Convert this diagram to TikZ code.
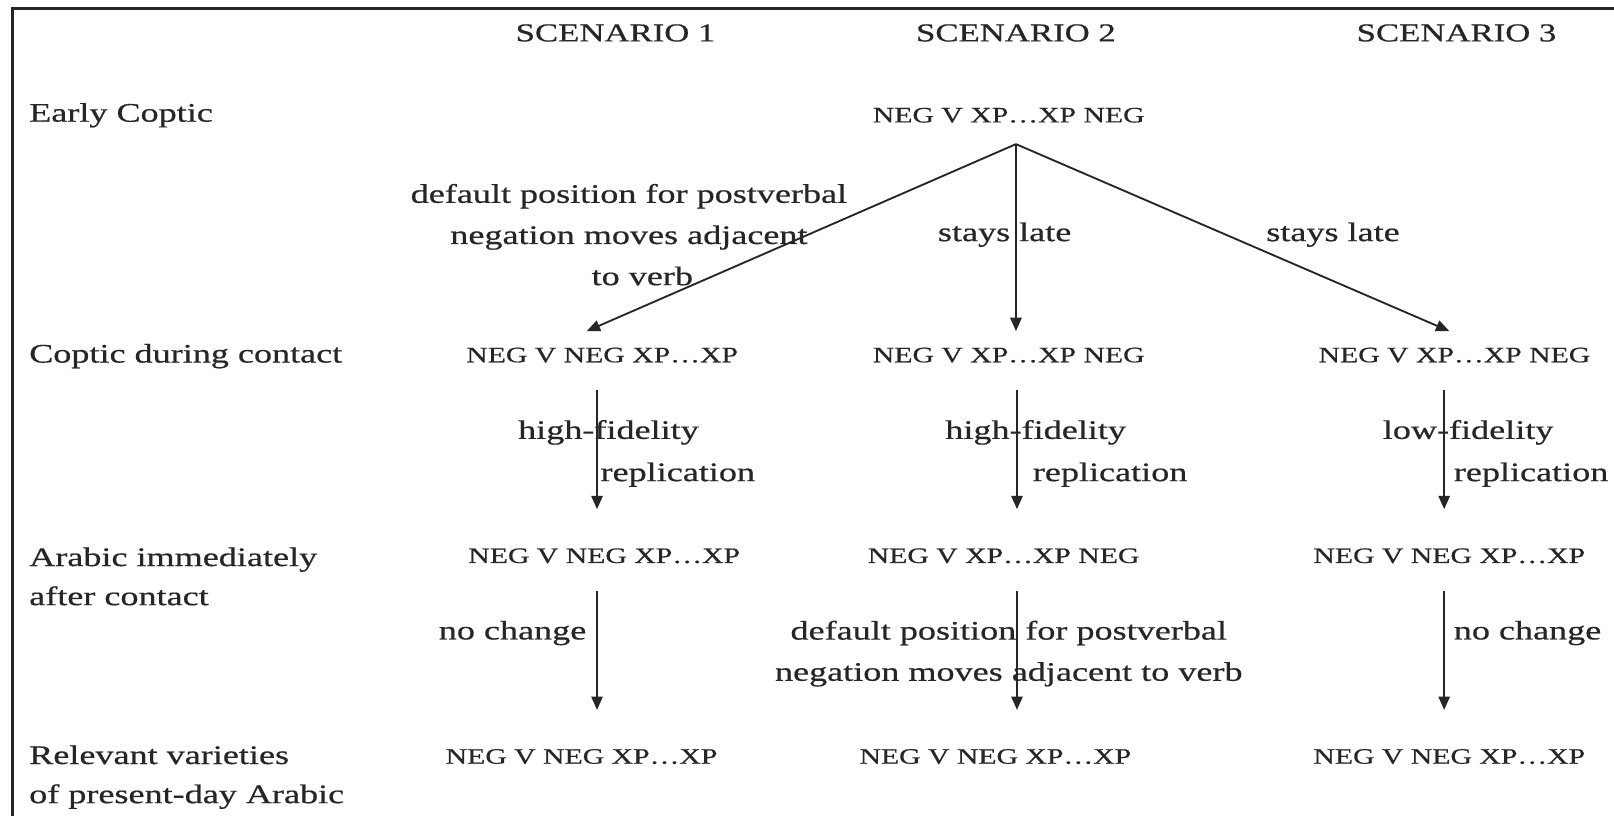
\documentclass[tikz,border=0pt]{standalone}
\usepackage{fontspec}
\setmainfont[FakeStretch=1.35,FakeBold=0.6]{Liberation Serif}
\usepackage{tikz}
\usetikzlibrary{positioning, arrows.meta}

\definecolor{ink}{HTML}{262626}

\tikzset{
  head/.style={font=\fontsize{12.5}{15}\selectfont},
  rowlab/.style={anchor=west, align=left, inner sep=0pt, font=\fontsize{13}{19}\selectfont},
  pat/.style={font=\fontsize{10.7}{13}\selectfont},
  lab/.style={align=center, inner sep=0pt, font=\fontsize{13}{20}\selectfont},
  arr/.style={draw=ink, line width=0.9pt, -{Triangle[length=6.5pt,width=5.5pt]}},
  vert/.style={arr, shorten <=10pt, shorten >=15.5pt}
}

\begin{document}
\begin{tikzpicture}[x=0.5pt, y=-0.5pt, text=ink]
   \useasboundingbox (0,0) rectangle (1568,793);
   % frame
   \draw[ink, line width=1.4pt] (1568,8) -- (12,8) -- (12,793);

   % scenario headings
   \node[head] (s1) at (598,32)  {SCENARIO 1};
   \node[head] (s2) at (987,32)  {SCENARIO 2};
   \node[head] (s3) at (1415,32) {SCENARIO 3};

   % stage labels
   \node[rowlab] (r1) at (28,112) {Early Coptic};
   \node[rowlab] (r2) at (28,346) {Coptic during contact};
   \node[rowlab] (r3) at (28,560) {Arabic immediately\\after contact};
   \node[rowlab] (r4) at (28,755) {Relevant varieties\\of present-day Arabic};

   % word orders
   \node[pat] (top) at (980,112)  {NEG V XP\ldots XP NEG};
   \node[pat] (p21) at (585,345)  {NEG V NEG XP\ldots XP};
   \node[pat] (p22) at (980,345)  {NEG V XP\ldots XP NEG};
   \node[pat] (p23) at (1413,345) {NEG V XP\ldots XP NEG};
   \node[pat] (p31) at (587,540)  {NEG V NEG XP\ldots XP};
   \node[pat] (p32) at (975,540)  {NEG V XP\ldots XP NEG};
   \node[pat] (p33) at (1408,540) {NEG V NEG XP\ldots XP};
   \node[pat] (p41) at (565,735)  {NEG V NEG XP\ldots XP};
   \node[pat] (p42) at (967,735)  {NEG V NEG XP\ldots XP};
   \node[pat] (p43) at (1408,735) {NEG V NEG XP\ldots XP};

   % columns of the vertical arrows
   \coordinate (apex) at (987,140);
   \coordinate (c1) at (580,0);
   \coordinate (c2) at (988,0);
   \coordinate (c3) at (1403,0);

   % early Coptic -> contact
   \draw[arr] (apex) -- ([xshift=-7.5pt,yshift=4.5pt]p21.north);
   \draw[arr] (apex) -- ([yshift=4.5pt]p22.north -| apex);
   \draw[arr] (apex) -- ([xshift=-2.5pt,yshift=4.5pt]p23.north);

   \node[lab] (m1) at (611,228)
     {default position for postverbal\\negation moves adjacent\hspace*{49pt}\\\hspace*{13pt}to verb};
   \node[lab] (m2) at (976,228)  {stays late};
   \node[lab] (m3) at (1295,228) {stays late};

   % contact -> Arabic
   \draw[vert] (p21.south -| c1) -- (p31.north -| c1);
   \draw[vert] (p22.south -| c2) -- (p32.north -| c2);
   \draw[vert] (p23.south -| c3) -- (p33.north -| c3);

   \node[lab, anchor=west, align=left, font=\fontsize{13}{20.5}\selectfont] (f1) at (503,440.5)
     {high-fidelity\\\hspace*{40pt}replication};
   \node[lab, anchor=west, align=left, font=\fontsize{13}{20.5}\selectfont] (f2) at (918,440.5)
     {high-fidelity\\\hspace*{42.5pt}replication};
   \node[lab, anchor=west, align=left, font=\fontsize{13}{20.5}\selectfont] (f3) at (1343,440.5)
     {low-fidelity\\\hspace*{34.5pt}replication};

   % Arabic -> present day
   \draw[vert] (p31.south -| c1) -- (p41.north -| c1);
   \draw[vert] (p32.south -| c2) -- (p42.north -| c2);
   \draw[vert] (p33.south -| c3) -- (p43.north -| c3);

   \node[lab, anchor=east] (n1) at (570,615)  {no change};
   \node[lab] (n2) at (980,635)
     {default position for postverbal\\negation moves adjacent to verb};
   \node[lab, anchor=west] (n3) at (1412,615) {no change};
\end{tikzpicture}
\end{document}
